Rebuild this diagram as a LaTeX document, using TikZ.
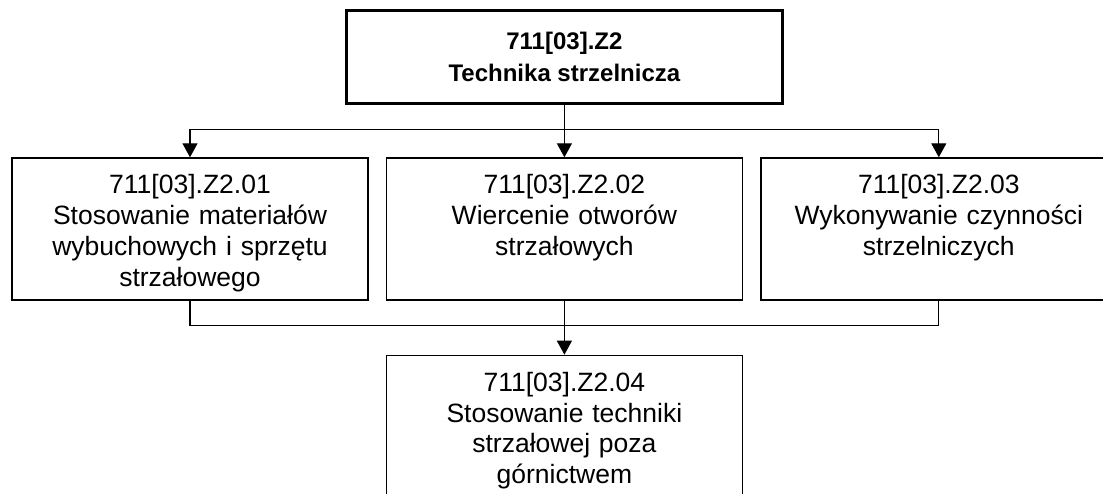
\documentclass[tikz,border=0pt]{standalone}
\usepackage{fontspec}
\setmainfont{Liberation Sans}
\usepackage{amsmath}
\usetikzlibrary{positioning, arrows.meta}

\begin{document}
\begin{tikzpicture}[
		module/.style={draw, line width=1.4pt, minimum width=356pt, minimum height=142pt, text width=330pt, inner xsep=13pt, inner ysep=16pt, text height=20pt, text depth=90pt, align=center, font=\fontsize{26.5}{30.7}\selectfont},
		link/.style={line width=1.3pt},
		arrow/.style={link, -{Triangle[length=14pt, width=15pt]}}]
		\useasboundingbox (0,0) rectangle (1103pt,-494pt);
%		\draw (0,0) rectangle (1103pt,-494pt);
		\node[module] (z201) at (190pt,-229pt) {711[03].Z2.01\\ Stosowanie materiałów\\ wybuchowych i sprzętu\\ strzałowego};
		\node[module, right=17pt of z201] (z202) {711[03].Z2.02\\ Wiercenie otworów\\ strzałowych};
		\node[module, right=17pt of z202] (z203) {711[03].Z2.03\\ Wykonywanie czynności\\ strzelniczych};
		\node[above=52pt of z202] (z2) [draw, line width=3.2pt, minimum width=436pt, minimum height=93pt, align=center, font=\fontsize{24}{31.7}\selectfont\bfseries] {711[03].Z2\\ Technika strzelnicza};
		\node[module, below=54pt of z202] (z204) {711[03].Z2.04\\ Stosowanie techniki\\ strzałowej poza\\ górnictwem};

		% upper bus
		\coordinate[below=24pt of z2] (top bus);
		\draw[link] (z201.north |- top bus) -- (z203.north |- top bus);
		\draw[arrow] (z2) -- (z202);
		\draw[arrow] (z201.north |- top bus) -- (z201);
		\draw[arrow] (z203.north |- top bus) -- (z203);

		% lower bus
		\coordinate[below=25pt of z202] (low bus);
		\draw[link] (z201) |- (low bus) -| (z203);
		\draw[arrow] (z202) -- (z204);
	\end{tikzpicture}
\end{document}
